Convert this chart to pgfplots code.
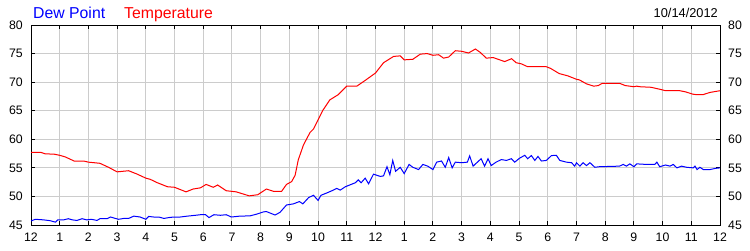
\documentclass[border=0pt]{standalone}
\usepackage{pgfplots}
\pgfplotsset{compat=1.18}
\usepackage{fontspec}
\setmainfont{Liberation Sans}
\definecolor{gridgray}{RGB}{204,204,204}
\begin{document}
\begin{tikzpicture}
\useasboundingbox (0,0) rectangle (750pt,250pt);
\begin{axis}[
  at={(31pt,25pt)}, anchor=south west,
  scale only axis, width=689pt, height=200pt,
  xmin=0, xmax=24, ymin=45, ymax=80,
  xtick={0,...,24},
  xticklabels={12,1,2,3,4,5,6,7,8,9,10,11,12,1,2,3,4,5,6,7,8,9,10,11,12},
  ytick={45,50,...,80},
  /pgf/number format/assume math mode=true,
  grid=major,
  major grid style={gridgray, line width=1pt},
  tick align=inside,
  major tick length=4pt,
  tick style={black, line width=1pt},
  axis line style={black, line width=1pt},
  ticklabel style={font=\fontsize{12.3}{14}\selectfont, text=black},
  xticklabel style={inner sep=0pt, anchor=north, yshift=-8pt},
  yticklabel style={inner sep=0pt, anchor=east, xshift=-8pt},
  yticklabel pos=left,
]
\addplot[red, line width=1pt] coordinates {
(0,57.7)(0.35,57.7)(0.5,57.45)(0.8,57.4)(1,57.2)(1.2,56.9)(1.5,56.2)(1.83,56.2)(2,56.0)(2.4,55.8)(2.7,55.1)(3,54.3)(3.2,54.4)(3.4,54.5)(3.7,53.9)(4,53.2)(4.15,53.0)(4.4,52.4)(4.75,51.7)(5,51.6)(5.4,50.8)(5.65,51.3)(5.9,51.5)(6.1,52.1)(6.35,51.6)(6.5,52.0)(6.8,51.0)(7.15,50.8)(7.6,50.1)(7.9,50.3)(8.2,51.3)(8.44,50.9)(8.73,50.9)(8.9,52.1)(9.08,52.6)(9.2,53.7)(9.31,56.4)(9.49,59.0)(9.72,61.2)(9.84,61.8)(10.0,63.4)(10.17,65.1)(10.41,66.9)(10.7,67.8)(11.0,69.3)(11.35,69.3)(11.64,70.3)(12.0,71.6)(12.28,73.4)(12.63,74.5)(12.86,74.6)(13.0,73.9)(13.3,74.0)(13.56,74.9)(13.8,75.0)(14.0,74.7)(14.2,74.8)(14.37,74.2)(14.55,74.4)(14.78,75.5)(15.0,75.4)(15.24,75.1)(15.48,75.8)(15.65,75.2)(15.86,74.2)(16.1,74.3)(16.27,74.0)(16.5,73.6)(16.74,74.1)(16.9,73.4)(17.08,73.2)(17.3,72.7)(17.95,72.7)(18.1,72.4)(18.4,71.5)(18.7,71.1)(19.0,70.5)(19.1,70.4)(19.35,69.7)(19.6,69.3)(19.76,69.4)(19.9,69.8)(20.5,69.8)(20.7,69.4)(21.0,69.2)(21.1,69.3)(21.2,69.2)(21.6,69.1)(21.95,68.7)(22.1,68.5)(22.6,68.5)(22.8,68.3)(23.05,67.9)(23.2,67.8)(23.4,67.8)(23.65,68.2)(24.0,68.5)
};
\addplot[blue, line width=1pt] coordinates {
(0,45.7)(0.15,46.0)(0.44,45.9)(0.67,45.75)(0.85,45.5)(0.93,45.9)(1.14,45.9)(1.3,46.1)(1.44,45.9)(1.6,45.8)(1.78,46.1)(1.94,45.9)(2.1,46.0)(2.3,45.8)(2.4,46.1)(2.65,46.1)(2.77,46.4)(2.94,46.15)(3.05,46.0)(3.23,46.15)(3.4,46.15)(3.58,46.55)(3.8,46.4)(4.0,46.0)(4.1,46.5)(4.27,46.4)(4.45,46.4)(4.63,46.15)(4.8,46.3)(4.98,46.4)(5.2,46.4)(5.44,46.55)(5.73,46.7)(5.9,46.8)(6.08,46.8)(6.2,46.3)(6.37,46.8)(6.6,46.7)(6.8,46.8)(6.98,46.4)(7.27,46.55)(7.63,46.6)(7.86,46.9)(8.1,47.3)(8.2,47.35)(8.5,46.75)(8.67,47.2)(8.9,48.5)(9.14,48.7)(9.35,49.1)(9.47,48.7)(9.67,49.8)(9.84,50.2)(10.0,49.3)(10.1,50.2)(10.3,50.6)(10.53,51.1)(10.65,51.4)(10.77,51.1)(10.95,51.7)(11.1,52.0)(11.3,52.4)(11.4,52.9)(11.5,52.4)(11.64,53.2)(11.76,52.2)(11.93,53.9)(12.17,53.5)(12.28,53.6)(12.4,55.2)(12.5,53.8)(12.6,56.3)(12.7,54.4)(12.86,55.1)(13.0,54.0)(13.17,55.6)(13.3,55.1)(13.5,54.7)(13.65,55.6)(13.82,55.3)(14.0,54.7)(14.13,56.0)(14.3,56.2)(14.43,55.1)(14.55,56.8)(14.67,55.0)(14.78,56.0)(15.0,55.9)(15.2,56.0)(15.28,57.1)(15.4,55.3)(15.55,56.0)(15.68,56.6)(15.8,55.3)(15.92,56.6)(16.03,55.4)(16.2,56.0)(16.38,56.45)(16.56,56.3)(16.73,56.6)(16.85,56.0)(17.02,56.7)(17.2,57.2)(17.3,56.6)(17.43,57.15)(17.55,56.3)(17.66,57.0)(17.78,56.2)(17.95,56.3)(18.13,57.15)(18.3,57.2)(18.42,56.3)(18.65,56.0)(18.83,55.9)(18.94,55.3)(19.0,55.9)(19.12,55.3)(19.23,55.9)(19.35,55.4)(19.47,55.9)(19.64,55.1)(19.8,55.2)(20.5,55.3)(20.63,55.6)(20.74,55.3)(20.86,55.7)(21.0,55.2)(21.1,55.7)(21.44,55.6)(21.73,55.6)(21.8,56.0)(21.9,55.2)(22.1,55.5)(22.26,55.3)(22.37,55.6)(22.5,55.0)(22.66,55.3)(22.84,55.1)(23.07,55.0)(23.13,55.3)(23.2,54.7)(23.3,55.1)(23.42,54.7)(23.65,54.7)(23.83,54.9)(24.0,55.0)
};
\end{axis}
\begin{axis}[
  at={(31pt,25pt)}, anchor=south west,
  scale only axis, width=689pt, height=200pt,
  xmin=0, xmax=24, ymin=45, ymax=80,
  hide x axis,
  axis y line*=right,
  ytick={45,50,...,80},
  /pgf/number format/assume math mode=true,
  major tick length=0pt,
  axis line style={draw=none},
  ticklabel style={font=\fontsize{12.3}{14}\selectfont, text=black},
  yticklabel style={inner sep=0pt, anchor=west, xshift=8pt},
]
\addplot[draw=none] coordinates {(0,45)};
\end{axis}
\node[anchor=base west, inner sep=0pt, text=blue, font=\fontsize{15.8}{18}\selectfont] at (33pt,231.7pt) {Dew Point};
\node[anchor=base west, inner sep=0pt, text=red, font=\fontsize{15.8}{18}\selectfont] at (124pt,231.7pt) {Temperature};
\node[anchor=base east, inner sep=0pt, text=black, font=\fontsize{12.8}{15}\selectfont] at (718pt,233pt) {10/14/2012};
\end{tikzpicture}
\end{document}
